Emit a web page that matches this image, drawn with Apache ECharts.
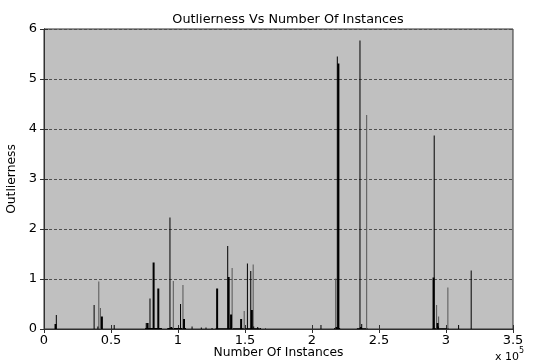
<!DOCTYPE html>
<html><head><meta charset="utf-8">
<script src="https://cdn.jsdelivr.net/npm/echarts@6/dist/echarts.min.js"></script>
<style>html,body{margin:0;padding:0;background:#fff}#c{width:536px;height:362px}</style>
</head><body><div id="c"></div>
<script>
// x = instance index, y = outlierness
var thinBlack = [[9200,0.28],[37400,0.48],[79100,0.61],[94000,2.23],[101900,0.5],[137100,1.66],[151800,1.31],[154300,1.16],[218900,5.45],[235800,5.77],[291200,3.87],[318800,1.17],[52400,0.08],[76300,0.12],[110500,0.05],[117400,0.03],[120900,0.03],[125400,0.02],[156500,0.05],[159500,0.04],[161600,0.02],[165300,0.01],[206700,0.08],[237100,0.1],[309400,0.08],[40200,0.05]];
var thickBlack = [[8600,0.1],[43200,0.25],[81800,1.33],[85300,0.81],[104500,0.2],[129200,0.81],[137800,1.04],[139600,0.29],[147100,0.2],[155100,0.38],[219700,5.31],[290700,1.03],[293700,0.12],[77300,0.12],[95000,0.04],[218300,0.04],[236500,0.04],[294000,0.05]];
var grayLines = [[40900,0.95],[42100,0.42],[96500,0.96],[103700,0.88],[140400,1.22],[149400,0.36],[156100,1.29],[217700,1.01],[240800,4.28],[293000,0.48],[294500,0.25],[301400,0.83]];
// near-zero baseline clusters [start, end, level]
var baseRuns = [[75500,88000,0.02],[92000,106000,0.02],[128000,161000,0.015],[216500,221000,0.02],[233500,241500,0.015],[290000,302000,0.015]];
var xTicks = [0,50000,100000,150000,200000,250000,300000,350000];
var yTicks = [0,1,2,3,4,5,6];

function spike(width, color){
  return function(params, api){
    var p0 = api.coord([api.value(0), 0]);
    var p1 = api.coord([api.value(0), api.value(1)]);
    return {type:'line', shape:{x1:p0[0],y1:p0[1],x2:p1[0],y2:p1[1]}, style:{stroke:color, lineWidth:width}};
  };
}
function run(params, api){
  var p0 = api.coord([api.value(0), 0]);
  var p1 = api.coord([api.value(1), api.value(2)]);
  return {type:'rect', shape:{x:p0[0], y:p1[1], width:p1[0]-p0[0], height:p0[1]-p1[1]+0.5}, style:{fill:'#000'}};
}
var font = 'DejaVu Sans, Liberation Sans, sans-serif';
var chart = echarts.init(document.getElementById('c'), null, {renderer:'canvas'});
chart.setOption({
  animation:false,
  backgroundColor:'#fff',
  title:{text:'Outlierness Vs Number Of Instances', left:283, top:8, textAlign:'center',
    textStyle:{fontFamily:font, fontSize:12.8, fontWeight:'normal', color:'#000'}},
  grid:{left:44, right:23, top:29, bottom:33, containLabel:false, outerBoundsMode:'none',
    show:true, backgroundColor:'#c0c0c0', borderColor:'#303030', borderWidth:1},
  xAxis:[{type:'value', min:0, max:350000, interval:50000, position:'bottom',
      name:'Number Of Instances', nameLocation:'middle', nameGap:18, nameMoveOverlap:false,
      nameTextStyle:{fontFamily:font, fontSize:12.3, color:'#000'},
      axisLine:{show:true, onZero:false, lineStyle:{color:'#303030'}},
      axisTick:{show:true, inside:true, length:4, lineStyle:{color:'#303030'}},
      axisLabel:{fontFamily:font, fontSize:13, color:'#000', margin:5,
        formatter:function(v){return String(v/100000);}},
      splitLine:{show:false}},
    {type:'value', min:0, max:350000, interval:50000, position:'top',
      axisLine:{show:true, lineStyle:{color:'#303030'}},
      axisTick:{show:true, inside:true, length:4, lineStyle:{color:'#303030'}},
      axisLabel:{show:false}, splitLine:{show:false}}],
  yAxis:[{type:'value', min:0, max:6, interval:1, position:'left',
      name:'Outlierness', nameLocation:'middle', nameGap:22,
      nameTextStyle:{fontFamily:font, fontSize:12.3, color:'#000'},
      axisLine:{show:true, lineStyle:{color:'#303030'}},
      axisTick:{show:true, inside:true, length:4, lineStyle:{color:'#303030'}},
      axisLabel:{fontFamily:font, fontSize:13, color:'#000', margin:7},
      splitLine:{show:true, lineStyle:{color:'#505050', type:[3,2], width:1}}},
    {type:'value', min:0, max:6, interval:1, position:'right',
      axisLine:{show:true, lineStyle:{color:'#303030'}},
      axisTick:{show:true, inside:true, length:4, lineStyle:{color:'#303030'}},
      axisLabel:{show:false}, splitLine:{show:false}}],
  graphic:[{type:'text', left:495, top:347, style:{text:'{a|x 10}{b|5}', rich:{a:{fontFamily:font, fontSize:11, fill:'#000', verticalAlign:'bottom'}, b:{fontFamily:font, fontSize:8, fill:'#000', verticalAlign:'top', padding:[0,0,8,0]}}}}],
  series:[
    {type:'custom', renderItem:run, data:baseRuns, encode:{x:[0,1], y:2}, clip:true},
    {type:'custom', renderItem:spike(1,'#555555'), data:grayLines, encode:{x:0,y:1}, clip:true},
    {type:'custom', renderItem:spike(2,'#000'), data:thickBlack, encode:{x:0,y:1}, clip:true},
    {type:'custom', renderItem:spike(1,'#000'), data:thinBlack, encode:{x:0,y:1}, clip:true}
  ]
});
</script></body></html>
